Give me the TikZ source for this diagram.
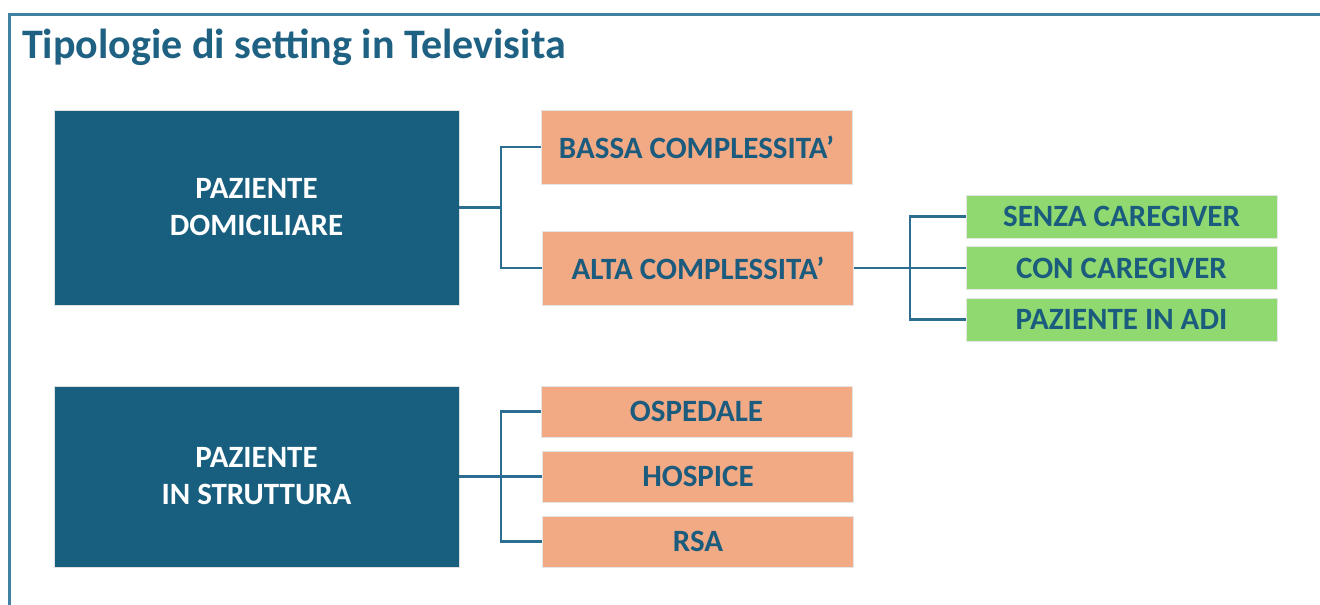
\documentclass[tikz,border=0pt]{standalone}
\usepackage{fontspec}
\setmainfont{Carlito}
\usepackage{tikz}

\definecolor{darkteal}{RGB}{23,94,127}
\definecolor{titleblue}{RGB}{30,97,130}
\definecolor{salmon}{RGB}{242,170,132}
\definecolor{lightgreen}{RGB}{143,217,112}
\definecolor{labelblue}{RGB}{27,92,126}
\definecolor{linkblue}{RGB}{44,110,146}
\definecolor{frameblue}{RGB}{63,128,163}

\tikzset{
	patientbox/.style={fill=darkteal, draw=black!12, inner sep=0pt, text=white, align=center,
		font=\bfseries\fontsize{31}{37}\selectfont},
	settingbox/.style={fill=salmon, draw=black!10, inner sep=0pt, minimum width=311, text=labelblue,
		font=\bfseries\fontsize{31}{37}\selectfont},
	carebox/.style={fill=lightgreen, draw=black!10, inner sep=0pt, minimum width=311, minimum height=43,
		text=labelblue, font=\bfseries\fontsize{31}{37}\selectfont},
	link/.style={draw=linkblue, line width=2.5pt}
}

\begin{document}
\begin{tikzpicture}[x=1pt, y=-1pt]
				\useasboundingbox (0,0) rectangle (1320,605);
				\draw[frameblue, line width=3pt] (9,605) -- (9,14) -- (1320,14);
				\node[anchor=base west, text=titleblue, inner sep=0pt, font=\bfseries\fontsize{42}{50}\selectfont] (title) at (22,58) {Tipologie di setting in Televisita};
				
				\node[patientbox, minimum width=405, minimum height=195] (dom) at (256.5,207.5) {PAZIENTE\\DOMICILIARE};
				\node[patientbox, minimum width=405, minimum height=181] (strutt) at (256.5,476.5) {PAZIENTE\\IN STRUTTURA};
				
				\node[settingbox, minimum height=74] (bassa) at (696.5,147) {BASSA COMPLESSITA’};
				\node[settingbox, minimum height=74] (alta) at (698,268) {ALTA COMPLESSITA’};
				\node[settingbox, minimum height=51] (osp) at (696.5,411.5) {OSPEDALE};
				\node[settingbox, minimum height=51] (hosp) at (698,476.5) {HOSPICE};
				\node[settingbox, minimum height=51] (rsa) at (698,541.5) {RSA};
				
				\node[carebox] (senza) at (1121.5,216.5) {SENZA CAREGIVER};
				\node[carebox] (con) at (1121.5,268) {CON CAREGIVER};
				\node[carebox] (adi) at (1121.5,319.5) {PAZIENTE IN ADI};
				
				\coordinate (jdom) at (501,207.5);
				\coordinate (jalta) at (910,268);
				\coordinate (jstrutt) at (501,476.5);
				
				\draw[link] (dom) -- (jdom);
				\draw[link] (jdom) |- (bassa);
				\draw[link] (jdom) |- (alta);
				
				\draw[link] (alta) -- (jalta);
				\draw[link] (jalta) |- (senza);
				\draw[link] (jalta) -- (con);
				\draw[link] (jalta) |- (adi);
				
				\draw[link] (strutt) -- (jstrutt);
				\draw[link] (jstrutt) |- (osp);
				\draw[link] (jstrutt) -- (hosp);
				\draw[link] (jstrutt) |- (rsa);
			\end{tikzpicture}
\end{document}
